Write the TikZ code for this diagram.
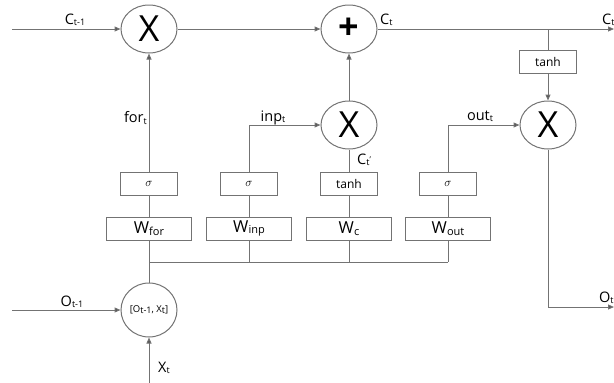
\documentclass[tikz,border=0pt]{standalone}
\usepackage{fontspec}
\setmainfont{Open Sans}
\usetikzlibrary{arrows.meta,shapes.geometric}
\definecolor{linegray}{RGB}{115,115,115}
\definecolor{tipgray}{RGB}{80,80,80}
% small lowered subscript in the label font
\newcommand\lsub[1]{\raisebox{-1.2pt}{\fontsize{9}{9}\selectfont #1}}
\newcommand\wsub[1]{\raisebox{-1.5pt}{\fontsize{11}{11}\selectfont #1}}
\begin{document}
\begin{tikzpicture}[x=1pt,y=-1pt,
  line/.style={draw=linegray, line width=1pt},
  arr/.style={line, -{Triangle[length=6pt,width=5pt,fill=tipgray]}},
  op/.style={ellipse, draw=linegray, line width=1pt, minimum width=56pt,
    minimum height=48pt, inner sep=0pt, font=\fontsize{36}{36}\selectfont},
  gatebox/.style={rectangle, draw=linegray, line width=1pt, minimum width=57pt,
    minimum height=23pt, inner sep=0pt, font=\fontsize{12}{12}\selectfont},
  wbox/.style={rectangle, draw=linegray, line width=1pt, minimum width=85pt,
    minimum height=23pt, inner sep=0pt, font=\fontsize{16.5}{16.5}\selectfont},
  lbl/.style={font=\fontsize{14.5}{14.5}\selectfont, text=black, inner sep=0pt}]
\useasboundingbox (0,0) rectangle (614,383);

% operation nodes
\node[op] (fx) at (149,29) {X};
\node[op] (plus) at (349,29) {\bfseries +};
\node[op] (ix) at (349,125) {X};
\node[op] (ox) at (548,125) {X};
\node[op, minimum height=54pt, font=\fontsize{9.5}{9.5}\selectfont] (cat) at (149,310)
  {[O\lsub{t-1}, X\lsub{t}]};

% activation boxes
\node[gatebox] (sf) at (149,183.5) {$\sigma$};
\node[gatebox] (si) at (249,183.5) {$\sigma$};
\node[gatebox] (tc) at (349,183.5) {tanh};
\node[gatebox] (so) at (448,183.5) {$\sigma$};
\node[gatebox] (th) at (548,62) {tanh};

% weight boxes
\node[wbox] (wf) at (149,228.5) {W\wsub{for}};
\node[wbox] (wi) at (249,228.5) {W\wsub{inp}};
\node[wbox] (wc) at (349,228.5) {W\wsub{c}};
\node[wbox] (wo) at (448,228.5) {W\wsub{out}};

% free ends and junctions
\coordinate (cin) at (12,29);
\coordinate (cout) at (614,29);
\coordinate (br) at (548,29);
\coordinate (oin) at (12,310);
\coordinate (xin) at (149,383);
\coordinate (oout) at (614,307);
\coordinate (busL) at (149,262);
\coordinate (busR) at (448,262);

% cell state path
\draw[arr] (cin) -- (fx.west);
\draw[arr] (fx.east) -- (plus.west);
\draw[arr] (plus.east) -- (cout);
\draw[line] (br) -- (th.north);
\draw[arr] (th.south) -- (ox.north);
\draw[arr] (ox.south) |- (oout);

% gates
\draw[arr] (sf.north) -- (fx.south);
\draw[arr] (si.north) |- (ix.west);
\draw[line] (tc.north) -- (ix.south);
\draw[arr] (ix.north) -- (plus.south);
\draw[arr] (so.north) |- (ox.west);

\foreach \w/\g in {wf/sf, wi/si, wc/tc, wo/so}{
  \draw[line] (\w.north) -- (\g.south);
  \draw[line] (\w.south) -- (\w.south |- busL);
}
\draw[line] (busL) -- (busR);
\draw[line] (cat.north) -- (busL);

% inputs
\draw[arr] (oin) -- (cat.west);
\draw[arr] (xin) -- (cat.south);

% labels
\node[lbl] at (75,20) {C\lsub{t-1}};
\node[lbl, anchor=east] at (147,118) {for\lsub{t}};
\node[lbl] at (273,118) {inp\lsub{t}};
\node[lbl] at (480,116) {out\lsub{t}};
\node[lbl, anchor=west] at (380,20) {C\lsub{t}};
\node[lbl, anchor=west] at (602,20) {C\lsub{t}};
\node[lbl, anchor=west] at (357,160) {C\lsub{t}\raisebox{2pt}{\fontsize{8}{8}\selectfont '}};
\node[lbl] at (72,302) {O\lsub{t-1}};
\node[lbl, anchor=west] at (158,368) {X\lsub{t}};
\node[lbl, anchor=west] at (599,298) {O\lsub{t}};
\end{tikzpicture}
\end{document}
